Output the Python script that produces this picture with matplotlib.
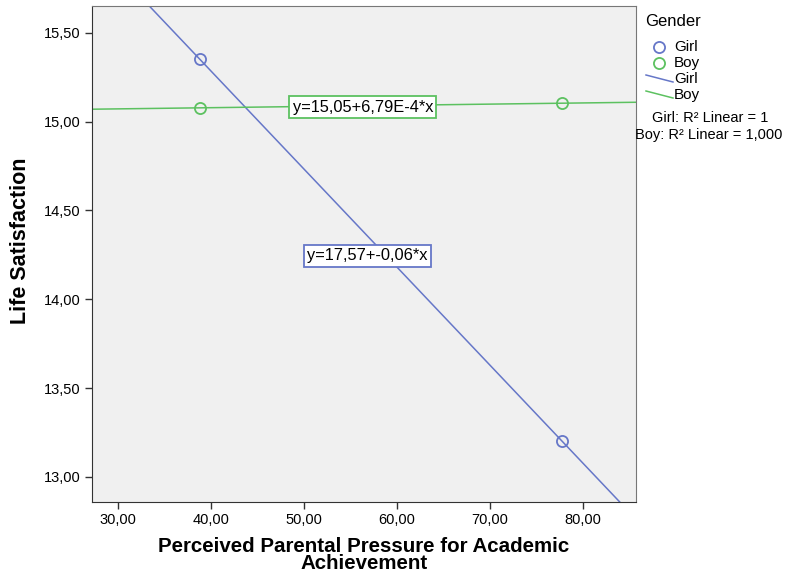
import matplotlib
matplotlib.use('Agg')
import matplotlib.pyplot as plt
import numpy as np
from matplotlib.lines import Line2D

plt.rcParams['font.family'] = ['Liberation Sans', 'DejaVu Sans']

# data
pressure_girl = [38.8, 77.7]
satisfaction_girl = [15.35, 13.204]
pressure_boy = [38.8, 77.7]
satisfaction_boy = [15.077, 15.103]
eq_girl = 'y=17,57+-0,06*x'
eq_boy = 'y=15,05+6,79E-4*x'
xticks = [30, 40, 50, 60, 70, 80]
yticks = [13.0, 13.5, 14.0, 14.5, 15.0, 15.5]

blue = '#6677c8'
green = '#5cc160'

fig = plt.figure(figsize=(7.87, 5.74), dpi=100)
ax = fig.add_axes([92/787, 72/574, 544/787, 496/574])
ax.set_facecolor('#f0f0f0')

xlim = (27.2, 85.7)
ylim = (12.859, 15.65)

# regression lines across the whole axes
xx = np.array(xlim)
for xs, ys, c in [(pressure_girl, satisfaction_girl, blue),
                  (pressure_boy, satisfaction_boy, green)]:
    k, b = np.polyfit(xs, ys, 1)
    ax.plot(xx, k*xx + b, color=c, lw=1.1)
    ax.plot(xs, ys, 'o', mfc='none', mec=c, ms=8, mew=1.3)

ax.set_xlim(*xlim)
ax.set_ylim(*ylim)
ax.set_xticks(xticks)
ax.set_xticklabels([('%.2f' % v).replace('.', ',') for v in xticks])
ax.set_yticks(yticks)
ax.set_yticklabels([('%.2f' % v).replace('.', ',') for v in yticks])
ax.tick_params(labelsize=10.5, length=5, width=1, color='#333333', pad=3)

for s in ['left', 'bottom']:
    ax.spines[s].set_color('#333333')
for s in ['top', 'right']:
    ax.spines[s].set_color('#777777')

ax.set_xlabel('Perceived Parental Pressure for Academic\nAchievement',
              fontsize=14.8, fontweight='bold', linespacing=0.85, labelpad=7)
ax.set_ylabel('Life Satisfaction', fontsize=15.5, fontweight='bold')
ax.yaxis.set_label_coords(-0.112, 0.526)

# equation labels
ax.text(0.498, 0.796, eq_boy, transform=ax.transAxes, ha='center', va='center',
        fontsize=11.8, bbox=dict(boxstyle='square,pad=0.2', fc='white', ec=green, lw=1.3))
ax.text(0.506, 0.496, eq_girl, transform=ax.transAxes, ha='center', va='center',
        fontsize=11.8, bbox=dict(boxstyle='square,pad=0.2', fc='white', ec=blue, lw=1.3))

# legend drawn by hand in figure pixels
W, H = 787, 574
def fx(p): return p / W
def fy(p): return 1 - p / H

fig.text(fx(645), fy(22), 'Gender', fontsize=12, va='center', ha='left')
for yy, c, lab in [(47, blue, 'Girl'), (63, green, 'Boy')]:
    fig.add_artist(Line2D([fx(659)], [fy(yy)], marker='o', mfc='none', mec=c,
                          ms=8, mew=1.3, transform=fig.transFigure))
    fig.text(fx(674), fy(yy), lab, fontsize=11, va='center', ha='left')
for yy, c, lab in [(79, blue, 'Girl'), (95, green, 'Boy')]:
    fig.add_artist(Line2D([fx(646), fx(673)], [fy(yy - 4), fy(yy + 3)], color=c,
                          lw=1.1, transform=fig.transFigure))
    fig.text(fx(674), fy(yy), lab, fontsize=11, va='center', ha='left')
fig.text(fx(710), fy(118), 'Girl: R² Linear = 1', fontsize=10.5, va='center', ha='center')
fig.text(fx(709), fy(135), 'Boy: R² Linear = 1,000', fontsize=10.5, va='center', ha='center')

fig.savefig('out.png', dpi=100)
